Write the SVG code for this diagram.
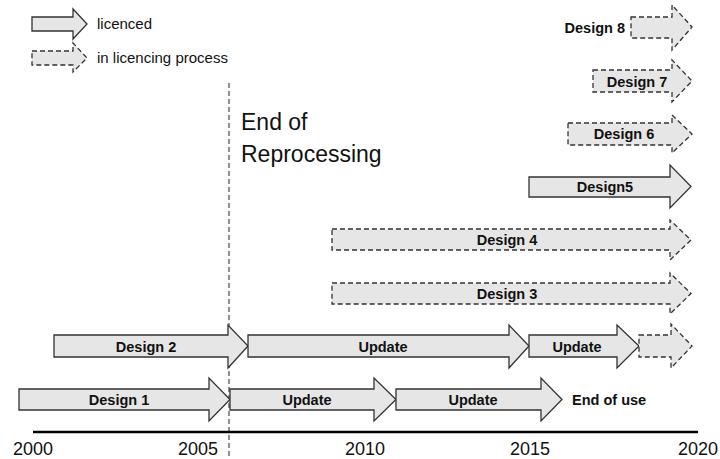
<svg xmlns="http://www.w3.org/2000/svg" width="720" height="459" viewBox="0 0 720 459">
<style>
.a{fill:#e6e6e6;stroke:#333;stroke-width:1.3;stroke-linejoin:miter}
.d{fill:#e6e6e6;stroke:#333;stroke-width:1.3;stroke-dasharray:5 3}
.l{font-family:"Liberation Sans",Arial,sans-serif;font-weight:bold;font-size:14.5px;fill:#111;text-anchor:middle}
.t{font-family:"Liberation Sans",Arial,sans-serif;font-size:15px;fill:#111}
.y{font-family:"Liberation Sans",Arial,sans-serif;font-size:18px;fill:#111;text-anchor:middle}
.h{font-family:"Liberation Sans",Arial,sans-serif;font-size:23px;fill:#111}
</style>
<rect width="720" height="459" fill="#fff"/>
<g id="legend">
<polygon class="a" points="32,17 73,17 73,9 87,24 73,39 73,31 32,31"/>
<text class="t" x="97" y="29">licenced</text>
<polygon class="d" points="32,51 73,51 73,43 87,58 73,72 73,65 32,65"/>
<text class="t" x="97" y="63">in licencing process</text>
</g>
<g id="connectors">
<line x1="229" y1="83" x2="229" y2="459" stroke="#444" stroke-width="1.2" stroke-dasharray="5 3"/>
<line x1="33" y1="432" x2="698" y2="432" stroke="#000" stroke-width="2.5"/>
</g>
<g id="end-of-reprocessing">
<text class="h" x="241" y="130">End of</text>
<text class="h" x="241" y="162">Reprocessing</text>
</g>
<g id="design1">
<polygon class="a" points="19,389 209,389 209,378 230,399.5 209,421 209,410 19,410"/>
<text class="l" x="119" y="405">Design 1</text>
</g>
<g id="update1a">
<polygon class="a" points="230,389 374,389 374,378 396,399.5 374,421 374,410 230,410"/>
<text class="l" x="307" y="405">Update</text>
</g>
<g id="update1b">
<polygon class="a" points="396,389 541,389 541,378 562,399.5 541,421 541,410 396,410"/>
<text class="l" x="473" y="405">Update</text>
</g>
<g id="end-of-use">
<text class="l" x="572" y="405" style="text-anchor:start">End of use</text>
</g>
<g id="design2">
<polygon class="a" points="54,335 228,335 228,325 248,346 228,368 228,357 54,357"/>
<text class="l" x="146" y="352">Design 2</text>
</g>
<g id="update2a">
<polygon class="a" points="248,335 509,335 509,325 529,346 509,368 509,357 248,357"/>
<text class="l" x="383" y="352">Update</text>
</g>
<g id="update2b">
<polygon class="a" points="529,335 617,335 617,325 639,346 617,368 617,357 529,357"/>
<text class="l" x="577" y="352">Update</text>
</g>
<g id="future2">
<polygon class="d" points="639,335 671,335 671,324 692,346 671,368 671,357 639,357"/>
</g>
<g id="design3">
<polygon class="d" points="332,283 670,283 670,273 691,293.5 670,314 670,304 332,304"/>
<text class="l" x="507" y="299">Design 3</text>
</g>
<g id="design4">
<polygon class="d" points="332,229 670,229 670,220 691,240 670,260 670,250 332,250"/>
<text class="l" x="507" y="245">Design 4</text>
</g>
<g id="design5">
<polygon class="a" points="529,177 670,177 670,165 691,186.5 670,208 670,197 529,197"/>
<text class="l" x="605" y="192">Design5</text>
</g>
<g id="design6">
<polygon class="d" points="568,123 672,123 672,115 692,134 672,153 672,145 568,145"/>
<text class="l" x="624" y="139">Design 6</text>
</g>
<g id="design7">
<polygon class="d" points="593,70 672,70 672,60 692,81 672,102 672,92 593,92"/>
<text class="l" x="637" y="87">Design 7</text>
</g>
<g id="design8">
<polygon class="d" points="631,17 672,17 672,5 692,27 672,50 672,38 631,38"/>
<text class="l" x="625" y="33" style="text-anchor:end">Design 8</text>
</g>
<g id="years">
<text class="y" x="33" y="455">2000</text>
<text class="y" x="198" y="455">2005</text>
<text class="y" x="365" y="455">2010</text>
<text class="y" x="530" y="455">2015</text>
<text class="y" x="698" y="455">2020</text>
</g>
</svg>
